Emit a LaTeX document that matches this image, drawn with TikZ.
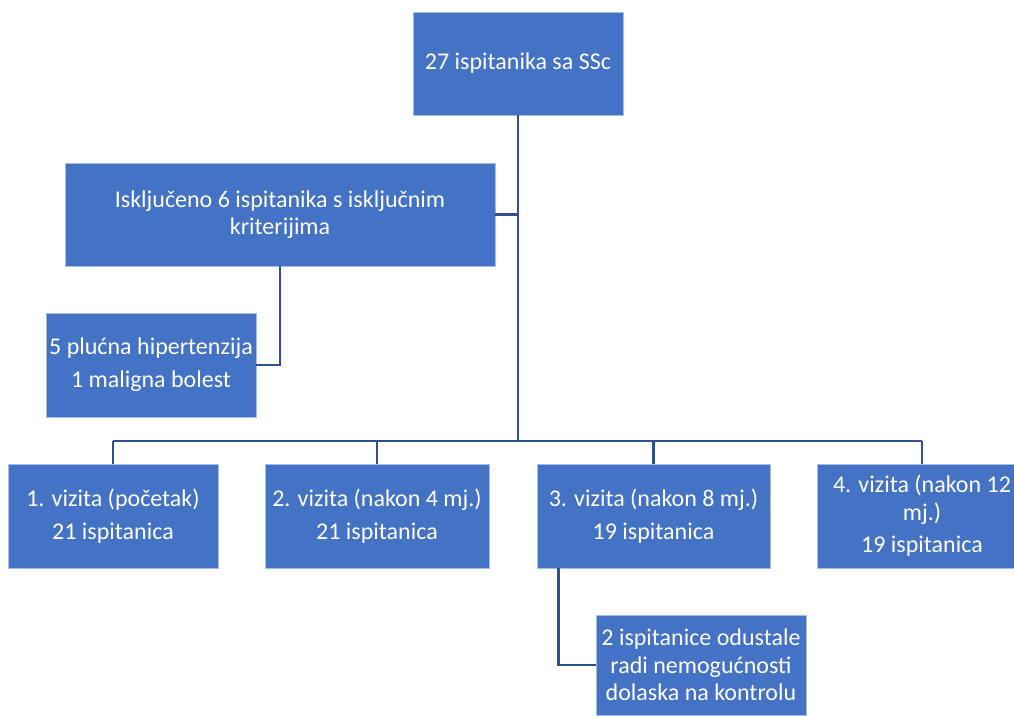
\documentclass[tikz,border=0pt]{standalone}
\usepackage{fontspec}
\setmainfont{Carlito}
\usetikzlibrary{calc}
\definecolor{boxblue}{HTML}{4472C4}
\definecolor{lineblue}{HTML}{2F528F}
\definecolor{edgeblue}{HTML}{A9BCE5}
\begin{document}
\begin{tikzpicture}[x=0.75pt,y=-0.75pt,
  bx/.style={rectangle,fill=boxblue,draw=edgeblue,line width=0.6pt,text=white,
    align=center,inner sep=0pt,font=\fontsize{18pt}{20.5pt}\selectfont},
  conn/.style={draw=lineblue,line width=2.2pt}]
\useasboundingbox (0,0) rectangle (1014,715);
\clip (0,0) rectangle (1014,715);
\node[bx,minimum width={210*0.75pt},minimum height={103*0.75pt}] (top) at (518,63.5) {27 ispitanika sa SSc};
\node[bx,minimum width={430*0.75pt},minimum height={103*0.75pt}] (excl) at (280,214.5) {Isključeno 6 ispitanika s isključnim\\kriterijima};
\node[bx,minimum width={210*0.75pt},minimum height={104*0.75pt}] (sub) at (151,365) {5 plućna hipertenzija\\[4pt]1 maligna bolest};
\node[bx,minimum width={210*0.75pt},minimum height={104*0.75pt}] (v1) at (113,516) {1. vizita (početak)\\[4pt]21 ispitanica};
\node[bx,minimum width={224*0.75pt},minimum height={104*0.75pt}] (v2) at (377,516) {2. vizita (nakon 4 mj.)\\[4pt]21 ispitanica};
\node[bx,minimum width={233*0.75pt},minimum height={104*0.75pt}] (v3) at (653.5,516) {3. vizita (nakon 8 mj.)\\[4pt]19 ispitanica};
\node[bx,minimum width={210*0.75pt},minimum height={104*0.75pt}] (v4) at (922,516) {4. vizita (nakon 12\\mj.)\\[4pt]19 ispitanica};
\node[bx,minimum width={210*0.75pt},minimum height={100*0.75pt}] (drop) at (701,665) {2 ispitanice odustale\\radi nemogućnosti\\dolaska na kontrolu};
\coordinate (bus) at (518,441);
\draw[conn] (top.south) -- (bus);
\draw[conn] (excl.east) -- (excl.east -| top.south);
\draw[conn] (excl.south) |- (sub.east);
\draw[conn] (bus -| v1.north) -- (bus -| v4.north);
\foreach \v in {v1,v2,v3,v4} \draw[conn] (bus -| \v.north) -- (\v.north);
\draw[conn] ($(v3.south west)+(22,0)$) |- (drop.west);
\end{tikzpicture}
\end{document}
